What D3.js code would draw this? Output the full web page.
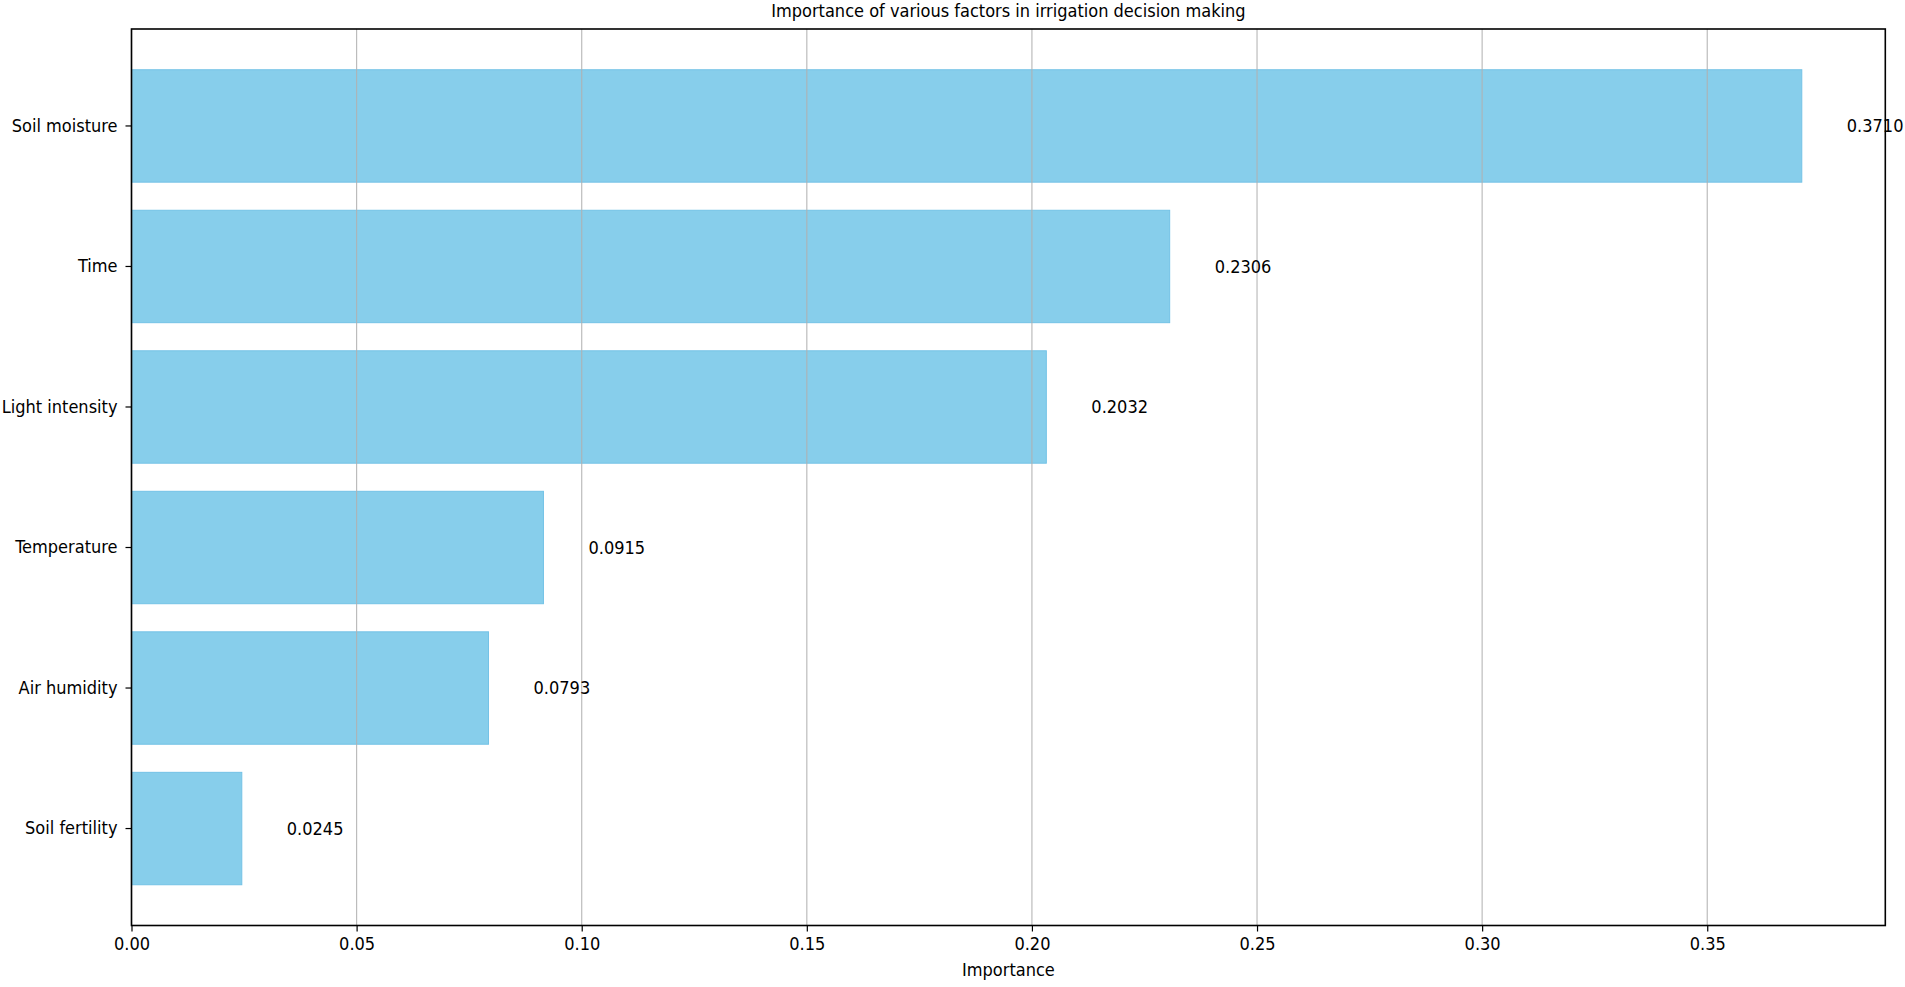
<!DOCTYPE html>
<html>
<head>
<meta charset="utf-8">
<script src="https://cdn.jsdelivr.net/npm/d3@7"></script>
<style>
  html, body { margin: 0; padding: 0; background: #fff; }
  svg text { font-family: "DejaVu Sans Condensed", "DejaVu Sans", sans-serif; font-stretch: condensed; fill: #000; }
</style>
</head>
<body>
<svg id="chart" width="1905" height="987"></svg>
<script>
const categories = ["Soil moisture", "Time", "Light intensity", "Temperature", "Air humidity", "Soil fertility"];
const importance = [0.3710, 0.2306, 0.2032, 0.0915, 0.0793, 0.0245];
const xTicks = [0.00, 0.05, 0.10, 0.15, 0.20, 0.25, 0.30, 0.35];
const titleText = "Importance of various factors in irrigation decision making";
const xLabelText = "Importance";

(function () {
const svg = d3.select("#chart");
const mLeft = 131.5, mRight = 1885.3, mTop = 29, mBottom = 925.5;
const fs = 18;

const xMax = d3.max(importance) * 1.05;
const x = d3.scaleLinear().domain([0, xMax]).range([mLeft, mRight]);
const y = d3.scaleBand().domain(categories).range([mTop, mBottom]).paddingInner(0.2).paddingOuter(0.29);

// bars
svg.append("g").selectAll("rect").data(categories).join("rect")
  .attr("x", x(0))
  .attr("y", d => y(d))
  .attr("width", (d, i) => x(importance[i]) - x(0))
  .attr("height", y.bandwidth())
  .attr("fill", "#87CEEB")
  .attr("stroke", "#73c2e6")
  .attr("stroke-width", 1);

// grid (above bars, like matplotlib default)
svg.append("g").selectAll("line").data(xTicks).join("line")
  .attr("x1", d => x(d)).attr("x2", d => x(d))
  .attr("y1", mTop).attr("y2", mBottom)
  .attr("stroke", "#b0b0b0").attr("stroke-opacity", 0.85).attr("stroke-width", 1.2);

// value labels
svg.append("g").selectAll("text").data(categories).join("text")
  .attr("x", (d, i) => x(importance[i] + 0.01))
  .attr("y", d => y(d) + y.bandwidth() / 2)
  .attr("dy", "0.35em")
  .attr("font-size", fs)
  .text((d, i) => importance[i].toFixed(4));

// x axis
const xAxis = svg.append("g").attr("transform", `translate(0,${mBottom})`)
  .call(d3.axisBottom(x).tickValues(xTicks).tickFormat(d3.format(".2f")).tickSize(6).tickPadding(6));
xAxis.select(".domain").remove();
xAxis.selectAll("text").attr("font-size", fs).attr("font-family", null);
xAxis.selectAll("line").attr("stroke", "#000").attr("stroke-width", 1.2);

// y axis
const yAxis = svg.append("g").attr("transform", `translate(${mLeft},0)`)
  .call(d3.axisLeft(y).tickSize(6).tickPadding(8));
yAxis.select(".domain").remove();
yAxis.selectAll("text").attr("font-size", fs).attr("font-family", null);
yAxis.selectAll("line").attr("stroke", "#000").attr("stroke-width", 1.2);

// frame
svg.append("rect").attr("x", mLeft).attr("y", mTop)
  .attr("width", mRight - mLeft).attr("height", mBottom - mTop)
  .attr("fill", "none").attr("stroke", "#000").attr("stroke-width", 1.6);

// title
svg.append("text").attr("x", (mLeft + mRight) / 2).attr("y", 17)
  .attr("text-anchor", "middle").attr("font-size", fs).text(titleText);

// x label
svg.append("text").attr("x", (mLeft + mRight) / 2).attr("y", 976)
  .attr("text-anchor", "middle").attr("font-size", fs).text(xLabelText);
})();
</script>
</body>
</html>
